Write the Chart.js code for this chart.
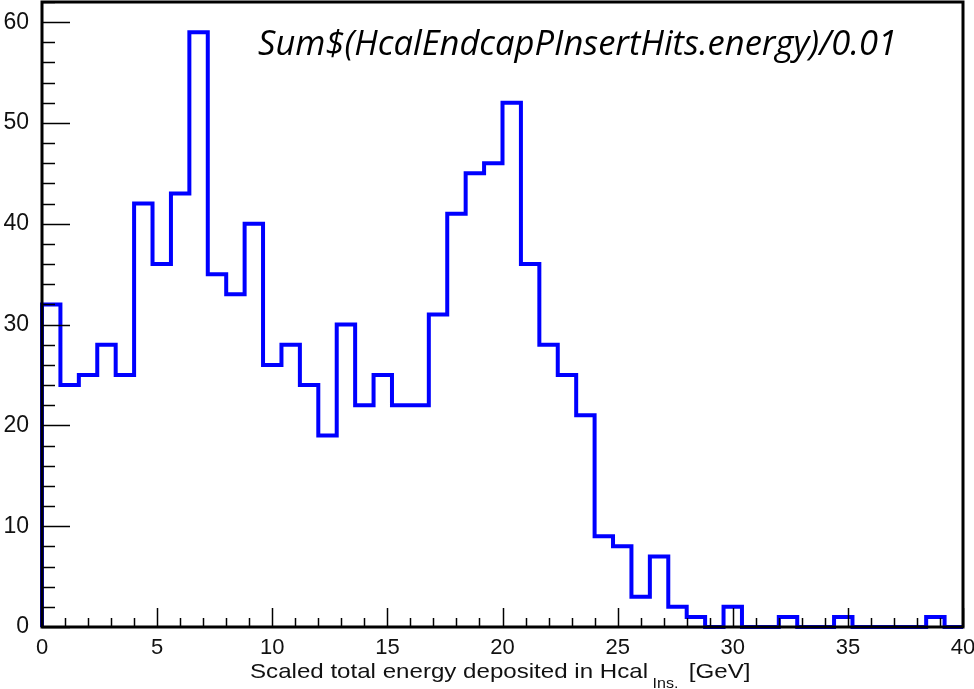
<!DOCTYPE html>
<html>
<head>
<meta charset="utf-8">
<script src="https://cdn.jsdelivr.net/npm/chart.js@4.4.0/dist/chart.umd.min.js"></script>
<style>
    html, body { margin: 0; padding: 0; background: #fff; }
    #wrap { width: 974px; height: 689px; position: relative; }
</style>
</head>
<body>
<div id="wrap"><canvas id="hist"></canvas></div>
<script>
// histogram bin edges (GeV) and counts per bin
const bin_edges = [
    0, 0.8, 1.6, 2.4, 3.2, 4, 4.8, 5.6, 6.4, 7.2,
    8, 8.8, 9.6, 10.4, 11.2, 12, 12.8, 13.6, 14.4, 15.2,
    16, 16.8, 17.6, 18.4, 19.2, 20, 20.8, 21.6, 22.4, 23.2,
    24, 24.8, 25.6, 26.4, 27.2, 28, 28.8, 29.6, 30.4, 31.2,
    32, 32.8, 33.6, 34.4, 35.2, 36, 36.8, 37.6, 38.4, 39.2, 40
]
const bin_counts = [
    32, 24, 25, 28, 25, 42, 36, 43, 59, 35,
    33, 40, 26, 28, 24, 19, 30, 22, 25, 22,
    22, 31, 41, 45, 46, 52, 36, 28, 25, 21,
    9, 8, 3, 7, 2, 1, 0, 2, 0, 0,
    1, 0, 0, 1, 0, 0, 0, 0, 1, 0
]
const x_tick_labels = [0, 5, 10, 15, 20, 25, 30, 35, 40]
const y_tick_labels = [0, 10, 20, 30, 40, 50, 60]

const title_text = 'Sum$(HcalEndcapPInsertHits.energy)/0.01'
const x_title = 'Scaled total energy deposited in Hcal'
const x_title_sub = 'Ins.'
const x_title_unit = '[GeV]'

// ROOT style step outline: up from zero at the low edge, across each bin, back down at the high edge
function make_points() {
    let pts = [{x: bin_edges[0], y: 0}]
    for (let i = 0; i < bin_counts.length; i++) {
        pts.push({x: bin_edges[i], y: bin_counts[i]})
        pts.push({x: bin_edges[i + 1], y: bin_counts[i]})
    }
    pts.push({x: bin_edges[bin_edges.length - 1], y: 0})
    return pts
}

const FONT = '"Liberation Sans", Arial, sans-serif'

const frame_plugin = {
    id: 'frame',
    afterDraw(chart) {
        const ctx = chart.ctx
        const a = chart.chartArea
        const xs = chart.scales.x
        const ys = chart.scales.y
        ctx.save()
        ctx.strokeStyle = '#000'

        // ticks pointing inward
        ctx.lineWidth = 1.5
        for (let v = 0; v <= 62; v += 2) {
            const py = Math.round(ys.getPixelForValue(v)) + 0.5
            const len = (v % 10 == 0) ? 28 : 13
            ctx.beginPath(); ctx.moveTo(a.left, py); ctx.lineTo(a.left + len, py); ctx.stroke()
        }
        for (let v = 0; v <= 40; v += 1) {
            const px = Math.round(xs.getPixelForValue(v)) + 0.5
            const len = (v % 5 == 0) ? 19 : 9
            ctx.beginPath(); ctx.moveTo(px, a.bottom); ctx.lineTo(px, a.bottom - len); ctx.stroke()
        }

        // box
        ctx.lineWidth = 3
        ctx.beginPath()
        ctx.moveTo(a.left, a.top)
        ctx.lineTo(a.right, a.top)
        ctx.lineTo(a.right, a.bottom)
        ctx.lineTo(a.left, a.bottom)
        ctx.closePath()
        ctx.stroke()

        // axis title with subscript, stretched a bit like the original
        ctx.fillStyle = '#111'
        ctx.textBaseline = 'alphabetic'
        ctx.textAlign = 'left'
        ctx.save()
        ctx.translate(250, 678)
        ctx.font = '21px ' + FONT
        const sx = 398 / ctx.measureText(x_title).width
        ctx.scale(sx, 1)
        ctx.fillText(x_title, 0, 0)
        let tx = ctx.measureText(x_title).width + 4
        ctx.font = '14px ' + FONT
        ctx.fillText(x_title_sub, tx, 10)
        tx += ctx.measureText(x_title_sub).width + 9
        ctx.font = '21px ' + FONT
        ctx.fillText(x_title_unit, tx, 0)
        ctx.restore()

        // histogram title
        ctx.fillStyle = '#000'
        ctx.font = 'italic 34px "Open Sans", "Noto Sans", sans-serif'
        const w = ctx.measureText(title_text).width
        ctx.translate(258, 55)
        ctx.scale(639 / w, 1)
        ctx.fillText(title_text, 0, 0)
        ctx.restore()
    }
}

const config = {
    type: 'line',
    data: {
        datasets: [{
            label: 'hist',
            data: make_points(),
            borderColor: 'rgb(0,0,255)',
            borderWidth: 4,
            borderJoinStyle: 'miter',
            borderCapStyle: 'butt',
            tension: 0,
            pointRadius: 0,
            fill: false,
            clip: 6
        }]
    },
    options: {
        responsive: false,
        animation: false,
        layout: {padding: {top: 2, right: 11, left: 0, bottom: 0}},
        plugins: {legend: {display: false}, tooltip: {enabled: false}},
        scales: {
            x: {
                type: 'linear',
                min: 0,
                max: 40,
                grid: {display: false, drawTicks: false},
                border: {display: false},
                afterBuildTicks: s => { s.ticks = x_tick_labels.map(v => ({value: v})) },
                afterFit: s => { s.height = 62; s.paddingLeft = 0; s.paddingRight = 0 },
                ticks: {
                    padding: 8,
                    maxRotation: 0,
                    autoSkip: false,
                    color: '#111',
                    font: {family: FONT, size: 22}
                }
            },
            y: {
                min: 0,
                max: 62,
                grid: {display: false, drawTicks: false},
                border: {display: false},
                afterBuildTicks: s => { s.ticks = y_tick_labels.map(v => ({value: v})) },
                afterFit: s => { s.width = 42; s.paddingTop = 0; s.paddingBottom = 0 },
                ticks: {
                    padding: 13,
                    color: '#111',
                    font: {family: FONT, size: 23}
                }
            }
        }
    },
    plugins: [frame_plugin]
}

const canvas = document.getElementById('hist')
canvas.width = 974
canvas.height = 689
new Chart(canvas, config)
</script>
</body>
</html>
